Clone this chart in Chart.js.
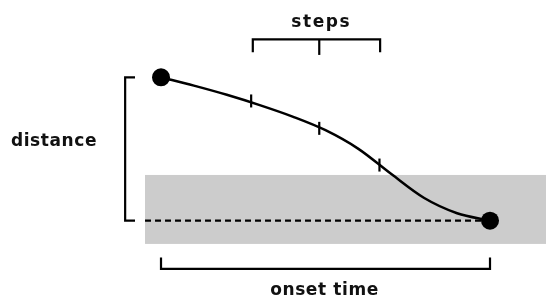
<!DOCTYPE html>
<html>
<head>
<meta charset="utf-8">
<script src="https://cdn.jsdelivr.net/npm/chart.js@4"></script>
<style>
body{margin:0;background:#fff}
#wrap{width:546px;height:301px;position:relative}
</style>
</head>
<body>
<div id="wrap"><canvas id="c"></canvas></div>
<script>
// curve: time (0 = start, 1 = onset) vs remaining distance (1 = start, 0 = target)
const curveTime=[0,0.1,0.2,0.3,0.4,0.5,0.6,0.7,0.8,0.9,1];
const curveDist=[1,0.942,0.878,0.806,0.726,0.631,0.501,0.325,0.158,0.052,0];
const stepTime=[0.274,0.481,0.664];
const stepDist=[0.835,0.644,0.388];
const endTime=[0,1];
const endDist=[1,0];
const baseTime=[-0.0486,1];
const baseDist=[0,0];
const labels={steps:'steps',distance:'distance',onset:'onset time'};

const xy=(xs,ys)=>xs.map((x,i)=>({x,y:ys[i]}));

const extras={
  id:'extras',
  beforeDatasetsDraw(chart){
    const {ctx,scales:{x,y},chartArea}=chart;
    ctx.save();
    // grey band around the target
    const bx=x.getPixelForValue(-0.0486), t=y.getPixelForValue(0.319), b=y.getPixelForValue(-0.162);
    ctx.fillStyle='#cccccc';
    ctx.fillRect(bx,t,chartArea.right-bx,b-t);
    ctx.restore();
  },
  afterDatasetsDraw(chart){
    const {ctx,scales:{x,y}}=chart;
    const X=v=>x.getPixelForValue(v), Y=v=>y.getPixelForValue(v);
    ctx.save();
    ctx.strokeStyle='#000';ctx.lineWidth=2.2;ctx.lineCap='butt';ctx.lineJoin='miter';
    const poly=pts=>{ctx.beginPath();pts.forEach((p,i)=>i?ctx.lineTo(X(p[0]),Y(p[1])):ctx.moveTo(X(p[0]),Y(p[1])));ctx.stroke();};
    // distance bracket
    poly([[-0.079,1],[-0.109,1],[-0.109,0],[-0.079,0]]);
    // steps bracket
    const s0=stepTime[0]+0.005,s2=stepTime[2]+0.002;
    poly([[s0,1.174],[s0,1.265],[s2,1.265],[s2,1.174]]);
    poly([[stepTime[1],1.265],[stepTime[1],1.156]]);
    // onset bracket
    poly([[endTime[0],-0.256],[endTime[0],-0.336],[endTime[1],-0.336],[endTime[1],-0.256]]);
    // text
    ctx.fillStyle='#111';
    ctx.font='bold 17px "DejaVu Sans", sans-serif';
    ctx.textBaseline='alphabetic';
    ctx.textAlign='center';
    ctx.letterSpacing='1.6px';
    ctx.fillText(labels.steps,X(stepTime[1])+2,27);
    ctx.letterSpacing='0.6px';
    ctx.fillText(labels.onset,(X(0)+X(1))/2-1,295);
    ctx.fillText(labels.distance,54,145.5);
    ctx.restore();
  }
};

new Chart(document.getElementById('c'),{
  type:'scatter',
  data:{datasets:[
    {type:'line',data:xy(baseTime,baseDist),borderColor:'#000',borderWidth:2.2,borderDash:[6,4],pointRadius:0,fill:false},
    {type:'line',data:xy(curveTime,curveDist),borderColor:'#000',borderWidth:2.5,pointRadius:0,cubicInterpolationMode:'monotone',fill:false},
    {data:xy(stepTime,stepDist),pointStyle:'line',rotation:90,pointRadius:6.5,borderColor:'#000',borderWidth:2.2,backgroundColor:'#000'},
    {data:xy(endTime,endDist),pointStyle:'circle',pointRadius:9,backgroundColor:'#000',borderColor:'#000',borderWidth:0}
  ]},
  options:{
    responsive:true,maintainAspectRatio:false,animation:false,
    layout:{padding:0,autoPadding:false},
    plugins:{legend:{display:false},tooltip:{enabled:false}},
    events:[],
    scales:{
      x:{type:'linear',min:-0.4894,max:1.1702,display:false},
      y:{type:'linear',min:-0.560,max:1.539,display:false}
    }
  },
  plugins:[extras]
});
</script>
</body>
</html>
